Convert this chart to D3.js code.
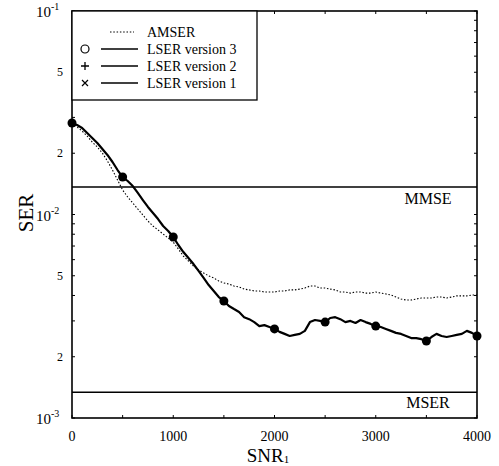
<!DOCTYPE html>
<html>
<head>
<meta charset="utf-8">
<script src="https://cdn.jsdelivr.net/npm/d3@7"></script>
<style>
  body { margin: 0; background: #fff; }
  text { font-family: "Liberation Serif", "DejaVu Serif", serif; fill: #000; }
</style>
</head>
<body>
<div id="chart"></div>
<script>
// SNR_1 grid (every 50)
var snr = d3.range(0, 4001, 50);

// LSER (versions 1-3 overlap)
var lser = [.02815,.02752,.02661,.02514,.02376,.02245,.02098,.01961,.01811,.01654,
  .01528,.01461,.01380,.01276,.01178,.01089,.01017,.00950,.00878,.00830,
  .00775,.00708,.00654,.00611,.00571,.00528,.00488,.00450,.00421,.00393,
  .00376,.00355,.00343,.00332,.00313,.00306,.00296,.00283,.00286,.00280,
  .00274,.00265,.00259,.00253,.00256,.00259,.00268,.00296,.00303,.00300,
  .00296,.00310,.00313,.00306,.00296,.00300,.00293,.00303,.00296,.00290,
  .00283,.00280,.00274,.00268,.00262,.00259,.00253,.00247,.00247,.00244,
  .00239,.00250,.00259,.00253,.00250,.00253,.00256,.00259,.00268,.00262,
  .00253];

// AMSER
var amser = [.02815,.02692,.02571,.02430,.02270,.02145,.02005,.01832,.01654,.01477,
  .01319,.01219,.01139,.01064,.00994,.00929,.00878,.00839,.00802,.00766,
  .00732,.00677,.00625,.00591,.00558,.00534,.00516,.00499,.00488,.00471,
  .00461,.00455,.00445,.00440,.00430,.00426,.00421,.00421,.00416,.00416,
  .00416,.00421,.00421,.00426,.00426,.00430,.00435,.00445,.00445,.00435,
  .00435,.00430,.00426,.00416,.00416,.00411,.00416,.00416,.00411,.00411,
  .00416,.00411,.00407,.00402,.00393,.00384,.00380,.00380,.00384,.00389,
  .00389,.00389,.00393,.00393,.00389,.00393,.00398,.00398,.00398,.00402,
  .00402];

// marker positions on the LSER curve
var markerSnr = [0, 500, 1000, 1500, 2000, 2500, 3000, 3500, 4000];

// reference levels
var mmse = 0.01365;
var mser = 0.00134;

// axis ticks
var xTicks = [0, 1000, 2000, 3000, 4000];
var xMinor = d3.range(0, 4001, 500);
var yDecades = [1e-3, 1e-2, 1e-1];
var yDecadeExp = ["-3", "-2", "-1"];
var yLabeled = [2e-3, 5e-3, 2e-2, 5e-2];
var yLabeledText = ["2", "5", "2", "5"];
var yMinor = [2e-3,3e-3,4e-3,5e-3,6e-3,7e-3,8e-3,9e-3,2e-2,3e-2,4e-2,5e-2,6e-2,7e-2,8e-2,9e-2];

var legendItems = ["AMSER", "LSER version 3", "LSER version 2", "LSER version 1"];

var W = 499, H = 466;
var svg = d3.select("#chart").append("svg")
  .attr("width", W).attr("height", H);

var x = d3.scaleLinear().domain([0, 4000]).range([72, 477]);
var y = d3.scaleLog().domain([1e-3, 1e-1]).range([418, 11]);

// frame
svg.append("rect")
  .attr("x", x(0)).attr("y", y(1e-1))
  .attr("width", x(4000) - x(0)).attr("height", y(1e-3) - y(1e-1))
  .attr("fill", "none").attr("stroke", "#000").attr("stroke-width", 1.6);

// inward ticks
var tk = svg.append("g").attr("stroke", "#000").attr("stroke-width", 1);
tk.selectAll(".yl").data(yMinor.concat(yDecades)).enter().append("line")
  .attr("x1", x(0)).attr("x2", x(0) + 3)
  .attr("y1", function(d){ return y(d); }).attr("y2", function(d){ return y(d); });
tk.selectAll(".yr").data(yMinor.concat(yDecades)).enter().append("line")
  .attr("x1", x(4000)).attr("x2", x(4000) - 3)
  .attr("y1", function(d){ return y(d); }).attr("y2", function(d){ return y(d); });
tk.selectAll(".xb").data(xMinor).enter().append("line")
  .attr("x1", function(d){ return x(d); }).attr("x2", function(d){ return x(d); })
  .attr("y1", y(1e-3)).attr("y2", y(1e-3) - 3);
tk.selectAll(".xt").data(xMinor).enter().append("line")
  .attr("x1", function(d){ return x(d); }).attr("x2", function(d){ return x(d); })
  .attr("y1", y(1e-1)).attr("y2", y(1e-1) + 3);

// x tick labels
svg.selectAll(".xlab").data(xTicks).enter().append("text")
  .attr("x", function(d){ return x(d); })
  .attr("y", 441)
  .attr("text-anchor", "middle")
  .style("font-size", "14px")
  .text(function(d){ return d; });

// y decade labels
var dec = svg.selectAll(".ydec").data(yDecades).enter().append("text")
  .attr("x", 36)
  .attr("y", function(d){ return y(d) + 6; })
  .style("font-size", "15px");
dec.append("tspan").text("10");
dec.append("tspan")
  .attr("dy", -7)
  .style("font-size", "10px")
  .text(function(d, i){ return yDecadeExp[i]; });

// y minor labels
svg.selectAll(".ymin").data(yLabeled).enter().append("text")
  .attr("x", 63)
  .attr("y", function(d){ return y(d) + 4; })
  .attr("text-anchor", "end")
  .style("font-size", "12px")
  .text(function(d, i){ return yLabeledText[i]; });

// axis titles
svg.append("text")
  .attr("transform", "translate(33,213) rotate(-90)")
  .attr("text-anchor", "middle")
  .style("font-size", "21px")
  .text("SER");

var xt = svg.append("text")
  .attr("x", 268).attr("y", 462)
  .attr("text-anchor", "middle")
  .style("font-size", "19px");
xt.append("tspan").text("SNR");
xt.append("tspan").attr("dy", 1).style("font-size", "11px").text("1");

// MMSE / MSER levels
svg.append("line")
  .attr("x1", x(0)).attr("x2", x(4000))
  .attr("y1", y(mmse)).attr("y2", y(mmse))
  .attr("stroke", "#000").attr("stroke-width", 1.5);
svg.append("line")
  .attr("x1", x(0)).attr("x2", x(4000))
  .attr("y1", y(mser)).attr("y2", y(mser))
  .attr("stroke", "#000").attr("stroke-width", 1.5);
svg.append("text")
  .attr("x", 428).attr("y", y(mmse) + 17)
  .attr("text-anchor", "middle")
  .style("font-size", "16px")
  .text("MMSE");
svg.append("text")
  .attr("x", 428).attr("y", y(mser) + 16)
  .attr("text-anchor", "middle")
  .style("font-size", "16px")
  .text("MSER");

// curves
var line = d3.line()
  .x(function(d, i){ return x(snr[i]); })
  .y(function(d){ return y(d); });

svg.append("path")
  .datum(amser)
  .attr("d", line)
  .attr("fill", "none")
  .attr("stroke", "#000")
  .attr("stroke-width", 1.1)
  .attr("stroke-dasharray", "1.5,1.8");

svg.append("path")
  .datum(lser)
  .attr("d", line)
  .attr("fill", "none")
  .attr("stroke", "#000")
  .attr("stroke-width", 2.2)
  .attr("stroke-linejoin", "round");

svg.selectAll(".mk").data(markerSnr).enter().append("circle")
  .attr("cx", function(d){ return x(d); })
  .attr("cy", function(d){ return y(lser[snr.indexOf(d)]); })
  .attr("r", 4.5)
  .attr("fill", "#000");

// legend
var lg = svg.append("g");
lg.append("rect")
  .attr("x", 72).attr("y", 11).attr("width", 185).attr("height", 89)
  .attr("fill", "#fff").attr("stroke", "#000").attr("stroke-width", 1.3);

var rowY = function(i){ return 32 + i * 17; };

lg.selectAll(".lt").data(legendItems).enter().append("text")
  .attr("x", 147)
  .attr("y", function(d, i){ return rowY(i) + 5; })
  .style("font-size", "14px")
  .text(function(d){ return d; });

lg.append("line")
  .attr("x1", 110).attr("x2", 134).attr("y1", rowY(0)).attr("y2", rowY(0))
  .attr("stroke", "#000").attr("stroke-width", 1).attr("stroke-dasharray", "1.5,1.8");
lg.selectAll(".ll").data([1, 2, 3]).enter().append("line")
  .attr("x1", 101).attr("x2", 138)
  .attr("y1", function(d){ return rowY(d); }).attr("y2", function(d){ return rowY(d); })
  .attr("stroke", "#000").attr("stroke-width", 1.4);

// legend symbols: open circle, plus, cross
lg.append("circle")
  .attr("cx", 85).attr("cy", rowY(1)).attr("r", 4)
  .attr("fill", "none").attr("stroke", "#000").attr("stroke-width", 1.2);
lg.append("path")
  .attr("d", "M81," + rowY(2) + "h8M85," + (rowY(2) - 4) + "v8")
  .attr("stroke", "#000").attr("stroke-width", 1.3);
lg.append("path")
  .attr("d", "M82," + (rowY(3) - 3) + "l6,6M88," + (rowY(3) - 3) + "l-6,6")
  .attr("stroke", "#000").attr("stroke-width", 1.2);
</script>
</body>
</html>
